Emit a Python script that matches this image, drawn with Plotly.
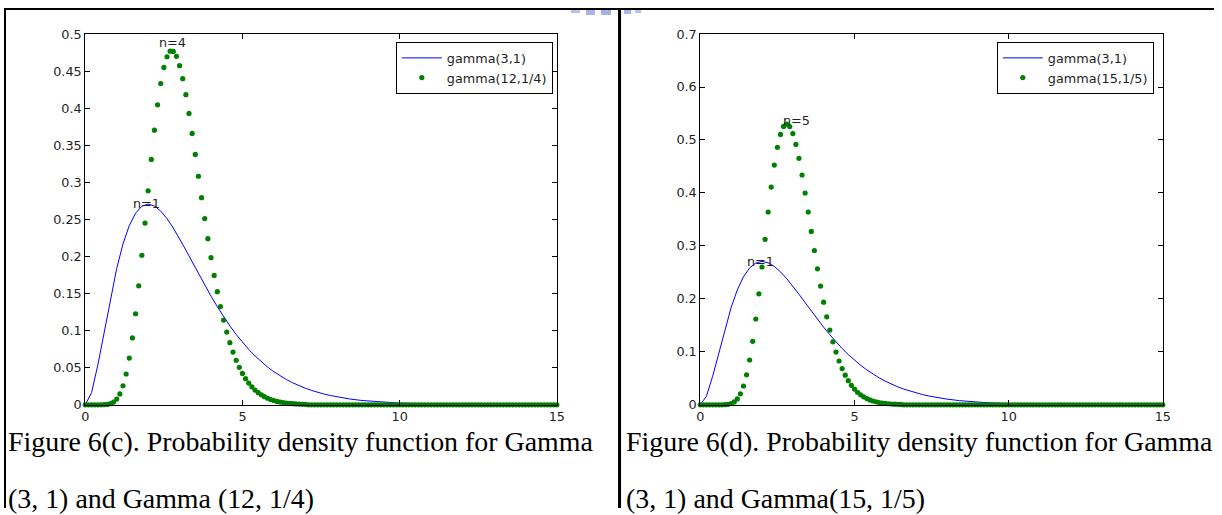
import numpy as np
import plotly.graph_objects as go

W, H = 1222, 515
# The page is shown inside an 8px body margin and then fitted into the window,
# so figure pixels land at screen = 8 + s * figure.  Positions below are given in
# screen pixels of the reference and converted with these factors.
OFF = 8
SX, SY = (W - 2 * OFF) / W, (H - 2 * OFF) / H

# ---------------- data ----------------
x_dots = np.round(np.arange(151) * 0.1, 1)  # 0.0 ... 15.0, dot spacing 0.1

blue_x = [0.0, 0.2, 0.4, 0.6, 0.8, 1.0, 1.2, 1.4, 1.6, 1.8, 2.0, 2.2, 2.4, 2.6, 2.8,
          3.0, 3.2, 3.4, 3.6, 3.8, 4.0, 4.2, 4.4, 4.6, 4.8, 5.0, 5.2, 5.4, 5.6, 5.8,
          6.0, 6.2, 6.4, 6.6, 6.8, 7.0, 7.2, 7.4, 7.6, 7.8, 8.0,
          8.4, 8.8, 9.2, 9.6, 10.0, 11.0, 12.0, 13.0, 14.0, 15.0]
gamma_3_1 = [0.0, 0.0164, 0.0536, 0.0988, 0.1438, 0.1839, 0.2169, 0.2417, 0.2584, 0.2678,
             0.2707, 0.2681, 0.2613, 0.2510, 0.2384, 0.2240, 0.2087, 0.1929, 0.1771, 0.1615,
             0.1465, 0.1323, 0.1189, 0.1063, 0.0948, 0.0842, 0.0746, 0.0659, 0.0580, 0.0509,
             0.0446, 0.0390, 0.0340, 0.0296, 0.0258, 0.0223, 0.0194, 0.0167, 0.0144, 0.0125,
             0.0107, 0.0079, 0.0058, 0.0043, 0.0031, 0.0023, 0.0011, 0.0005, 0.0002, 0.0001, 0.0]

gamma_12_q = [0.0, 0.0, 0.0, 0.0, 0.0, 0.0, 0.0001, 0.0005, 0.0015, 0.0036,
              0.0077, 0.0147, 0.0257, 0.0415, 0.0630, 0.0902, 0.1228, 0.1604, 0.2017, 0.2451,
              0.2886, 0.3309, 0.3703, 0.4046, 0.4333, 0.4550, 0.4694, 0.4769, 0.4766, 0.4700,
              0.4574, 0.4398, 0.4183, 0.3930, 0.3660, 0.3376, 0.3082, 0.2793, 0.2511, 0.2241,
              0.1984, 0.1745, 0.1525, 0.1324, 0.1143, 0.0981, 0.0838, 0.0711, 0.0601, 0.0505,
              0.0423, 0.0352, 0.0293, 0.0242, 0.0199, 0.0163, 0.0134, 0.0109, 0.0088, 0.0071,
              0.0058, 0.0046, 0.0037, 0.0030, 0.0024, 0.0019, 0.0015, 0.0012, 0.0009, 0.0007,
              0.0006,
              0.0, 0.0, 0.0, 0.0, 0.0, 0.0, 0.0, 0.0, 0.0, 0.0,
              0.0, 0.0, 0.0, 0.0, 0.0, 0.0, 0.0, 0.0, 0.0, 0.0,
              0.0, 0.0, 0.0, 0.0, 0.0, 0.0, 0.0, 0.0, 0.0, 0.0,
              0.0, 0.0, 0.0, 0.0, 0.0, 0.0, 0.0, 0.0, 0.0, 0.0,
              0.0, 0.0, 0.0, 0.0, 0.0, 0.0, 0.0, 0.0, 0.0, 0.0,
              0.0, 0.0, 0.0, 0.0, 0.0, 0.0, 0.0, 0.0, 0.0, 0.0,
              0.0, 0.0, 0.0, 0.0, 0.0, 0.0, 0.0, 0.0, 0.0, 0.0,
              0.0, 0.0, 0.0, 0.0, 0.0, 0.0, 0.0, 0.0, 0.0, 0.0]

gamma_15_f = [0.0, 0.0, 0.0, 0.0, 0.0, 0.0, 0.0, 0.0, 0.0003, 0.0009,
              0.0024, 0.0054, 0.0111, 0.0207, 0.0355, 0.0566, 0.0846, 0.1199, 0.1620, 0.2095,
              0.2602, 0.3125, 0.3640, 0.4111, 0.4527, 0.4861, 0.5104, 0.5255, 0.5298, 0.5253,
              0.5121, 0.4916, 0.4654, 0.4339, 0.3999, 0.3640, 0.3273, 0.2913, 0.2568, 0.2241,
              0.1937, 0.1660, 0.1411, 0.1189, 0.0995, 0.0827, 0.0683, 0.0560, 0.0455, 0.0368,
              0.0297, 0.0237, 0.0189, 0.0150, 0.0118, 0.0092, 0.0072, 0.0056, 0.0043, 0.0033,
              0.0026, 0.0020, 0.0015, 0.0011, 0.0009, 0.0006,
              0.0, 0.0, 0.0, 0.0, 0.0, 0.0, 0.0, 0.0, 0.0, 0.0,
              0.0, 0.0, 0.0, 0.0, 0.0, 0.0, 0.0, 0.0, 0.0, 0.0,
              0.0, 0.0, 0.0, 0.0, 0.0, 0.0, 0.0, 0.0, 0.0, 0.0,
              0.0, 0.0, 0.0, 0.0, 0.0, 0.0, 0.0, 0.0, 0.0, 0.0,
              0.0, 0.0, 0.0, 0.0, 0.0, 0.0, 0.0, 0.0, 0.0, 0.0,
              0.0, 0.0, 0.0, 0.0, 0.0, 0.0, 0.0, 0.0, 0.0, 0.0,
              0.0, 0.0, 0.0, 0.0, 0.0, 0.0, 0.0, 0.0, 0.0, 0.0,
              0.0, 0.0, 0.0, 0.0, 0.0, 0.0, 0.0, 0.0, 0.0, 0.0,
              0.0, 0.0, 0.0, 0.0, 0.0]

x_ticks = [0, 5, 10, 15]
y_ticks_left = [0, 0.05, 0.1, 0.15, 0.2, 0.25, 0.3, 0.35, 0.4, 0.45, 0.5]
y_ticks_right = [0, 0.1, 0.2, 0.3, 0.4, 0.5, 0.6, 0.7]

legend_left = ["gamma(3,1)", "gamma(12,1/4)"]
legend_right = ["gamma(3,1)", "gamma(15,1/5)"]

labels_left = [("n=4", 2.78, 0.488), ("n=1", 1.95, 0.272)]
labels_right = [("n=5", 3.12, 0.537), ("n=1", 1.95, 0.270)]

caption_left = ["Figure 6(c). Probability density function for Gamma",
                "(3, 1) and Gamma (12, 1/4)"]
caption_right = ["Figure 6(d). Probability density function for Gamma",
                 "(3, 1) and Gamma(15, 1/5)"]

# ---------------- figure ----------------
def px(v):
    return ((v - OFF) / SX) / W

def py(v):
    return 1 - ((v - OFF) / SY) / H

BLUE = "#0000ff"
GREEN = "#008000"
SANS = "DejaVu Sans, Verdana, sans-serif"
SERIF = "Liberation Serif, Times New Roman, serif"
TXT = "#1e1e1e"
FS = 12.8
LFS = 12.8
CAP = 27.9

fig = go.Figure()

fig.add_trace(go.Scatter(x=blue_x, y=gamma_3_1, mode="lines", name=legend_left[0],
                         line=dict(color=BLUE, width=1), xaxis="x", yaxis="y",
                         legend="legend", cliponaxis=False))
fig.add_trace(go.Scatter(x=x_dots, y=gamma_12_q, mode="markers", name=legend_left[1],
                         marker=dict(color=GREEN, size=5.2), xaxis="x", yaxis="y",
                         legend="legend", cliponaxis=False))
fig.add_trace(go.Scatter(x=blue_x, y=gamma_3_1, mode="lines", name=legend_right[0],
                         line=dict(color=BLUE, width=1), xaxis="x2", yaxis="y2",
                         legend="legend2", cliponaxis=False))
fig.add_trace(go.Scatter(x=x_dots, y=gamma_15_f, mode="markers", name=legend_right[1],
                         marker=dict(color=GREEN, size=5.2), xaxis="x2", yaxis="y2",
                         legend="legend2", cliponaxis=False))

axis_common = dict(showline=True, linecolor="black", linewidth=1, mirror="ticks",
                   ticks="inside", ticklen=5, tickcolor="black", showgrid=False,
                   zeroline=False, tickfont=dict(family=SANS, size=FS, color=TXT))

ydom = [py(404), py(34)]
fig.update_layout(
    width=W, height=H, autosize=False, margin=dict(l=0, r=0, t=0, b=0, pad=0),
    paper_bgcolor="white", plot_bgcolor="white",
    xaxis=dict(domain=[px(89), px(559)], range=[0, 15], tickvals=x_ticks,
               anchor="y", **axis_common),
    yaxis=dict(domain=ydom, range=[0, 0.5], tickvals=y_ticks_left,
               ticktext=[f"{v:g}" for v in y_ticks_left], anchor="x", **axis_common),
    xaxis2=dict(domain=[px(702), px(1163)], range=[0, 15], tickvals=x_ticks,
                anchor="y2", **axis_common),
    yaxis2=dict(domain=ydom, range=[0, 0.7], tickvals=y_ticks_right,
                ticktext=[f"{v:g}" for v in y_ticks_right], anchor="x2", **axis_common),
    legend=dict(x=px(555), xanchor="right", y=py(42), yanchor="top",
                bordercolor="black", borderwidth=1, bgcolor="white",
                font=dict(family=SANS, size=LFS, color=TXT), tracegroupgap=0,
                itemwidth=40),
    legend2=dict(x=px(1154), xanchor="right", y=py(42), yanchor="top",
                 bordercolor="black", borderwidth=1, bgcolor="white",
                 font=dict(family=SANS, size=LFS, color=TXT), tracegroupgap=0,
                 itemwidth=40),
    showlegend=True,
)

ann = []
for t, xv, yv in labels_left:
    ann.append(dict(text=t, x=xv, y=yv, xref="x", yref="y", showarrow=False,
                    font=dict(family=SANS, size=FS, color=TXT)))
for t, xv, yv in labels_right:
    ann.append(dict(text=t, x=xv, y=yv, xref="x2", yref="y2", showarrow=False,
                    font=dict(family=SANS, size=FS, color=TXT)))
for i, line in enumerate(caption_left):
    ann.append(dict(text=line, x=px(10), y=py([441, 498][i]), xref="paper", yref="paper",
                    xanchor="left", yanchor="middle", showarrow=False,
                    font=dict(family=SERIF, size=CAP, color="black")))
for i, line in enumerate(caption_right):
    ann.append(dict(text=line, x=px(626), y=py([441, 498][i]), xref="paper", yref="paper",
                    xanchor="left", yanchor="middle", showarrow=False,
                    font=dict(family=SERIF, size=CAP, color="black")))
fig.update_layout(annotations=ann)

shapes = [
    # table borders (top and left edges drawn at the first visible pixels)
    dict(type="rect", xref="paper", yref="paper", x0=0, x1=1, y0=py(OFF + 2), y1=1,
         line=dict(width=0), fillcolor="black"),
    dict(type="rect", xref="paper", yref="paper", x0=0, x1=px(OFF + 2), y0=0, y1=1,
         line=dict(width=0), fillcolor="black"),
    dict(type="rect", xref="paper", yref="paper", x0=px(620), x1=px(623), y0=0, y1=1,
         line=dict(width=0), fillcolor="black"),
]
# faint watermark fragment at the top
for x0, x1, h, c in [(560, 567, 10, "#c9d1f2"), (573, 582, 13, "#b7c1ee"),
                     (588, 597, 15, "#a9b5ea"), (603, 613, 15, "#a3b0ea"),
                     (626, 633, 14, "#a9b5ea"), (637, 643, 13, "#b7c1ee"),
                     (647, 652, 10, "#c9d1f2")]:
    shapes.append(dict(type="rect", xref="paper", yref="paper", x0=px(x0), x1=px(x1),
                       y0=py(h), y1=1, line=dict(width=0), fillcolor=c, layer="below"))
fig.update_layout(shapes=shapes)

fig.write_html("out.html")
